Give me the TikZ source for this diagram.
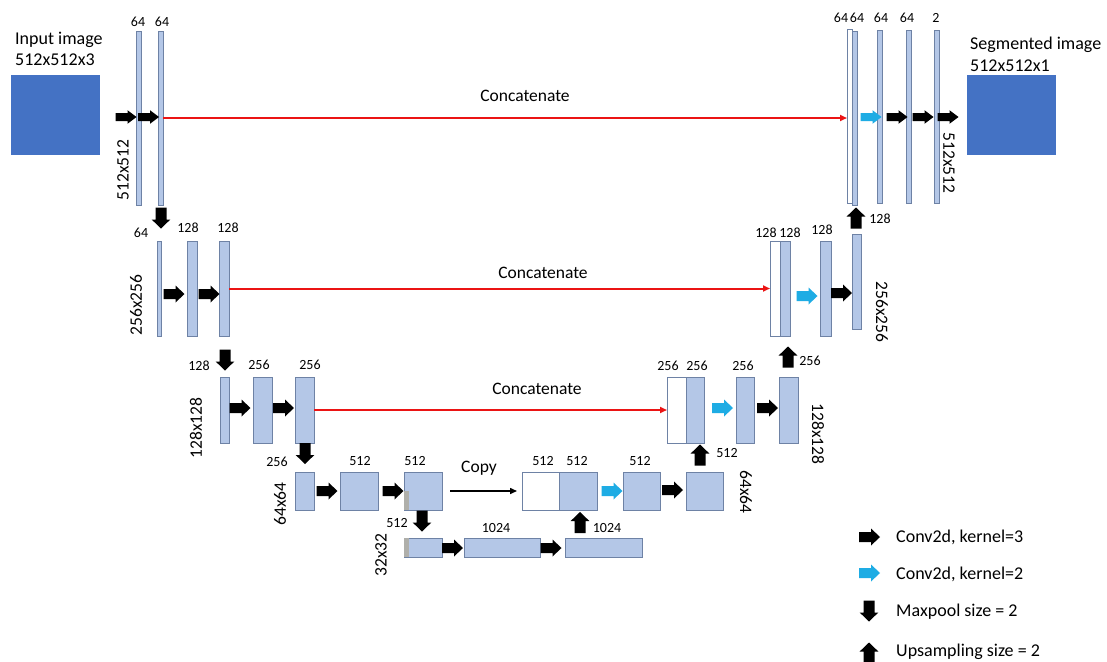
\documentclass[tikz,border=0pt]{standalone}
\usepackage{fontspec}
\setmainfont{Carlito}
\usetikzlibrary{arrows.meta}
\definecolor{barfill}{RGB}{180,199,231}
\definecolor{barline}{RGB}{110,130,165}
\definecolor{imgblue}{RGB}{68,114,196}
\definecolor{cyanA}{RGB}{30,172,228}
\definecolor{redA}{RGB}{235,20,20}
\definecolor{greyA}{RGB}{175,175,170}
\tikzset{
  bar/.style={draw=barline, fill=barfill, line width=0.8pt, inner sep=0pt, outer sep=0pt, anchor=north west},
  wbar/.style={bar, fill=white},
  img/.style={fill=imgblue, draw=none, inner sep=0pt, outer sep=0pt, anchor=north west},
  num/.style={font=\fontsize{14}{15}\selectfont, inner sep=0pt, anchor=base},
  dim/.style={font=\fontsize{17.5}{20}\selectfont, inner sep=0pt},
  big/.style={font=\fontsize{18}{21}\selectfont, inner sep=0pt, anchor=base west},
  lbl/.style={font=\fontsize{17.5}{20}\selectfont, inner sep=0pt, anchor=base},
  concat/.style={draw=redA, line width=2pt, -{Triangle[length=7pt,width=6pt]}},
  copyline/.style={draw=black, line width=1.5pt, -{Triangle[length=7pt,width=6pt]}},
  blk/.pic={\fill[black] (-10.5,-5) -- (1.5,-5) -- (1.5,-8.5) -- (10.5,0) -- (1.5,8.5) -- (1.5,5) -- (-10.5,5) -- cycle;},
  cyn/.pic={\fill[cyanA] (-10.5,-5) -- (1.5,-5) -- (1.5,-8.5) -- (10.5,0) -- (1.5,8.5) -- (1.5,5) -- (-10.5,5) -- cycle;},
  small/.style={yscale=0.8},
  down/.style={rotate=-90, yscale=1.1},
  up/.style={rotate=90, yscale=1.1},
}
\begin{document}
\begin{tikzpicture}[x=1pt, y=-1pt]
\fill[white] (0,0) rectangle (1107,661);
\useasboundingbox (0,0) rectangle (1107,661);

% images
\node[img, minimum width=89, minimum height=80] (inimg) at (11,75) {};
\node[img, minimum width=89, minimum height=80] (outimg) at (967,75) {};
\node[big] (intxt1) at (15,45) {Input image};
\node[big] (intxt2) at (15,66) {512x512x3};
\node[big] (outtxt1) at (970,50) {Segmented image};
\node[big] (outtxt2) at (970,71) {512x512x1};

% level 1
\node[bar, minimum width=5, minimum height=174] (a1) at (136,31) {};
\node[bar, minimum width=5, minimum height=174] (a2) at (158,31) {};
\node[wbar, minimum width=5, minimum height=174] (r1w) at (847,29) {};
\node[bar, minimum width=5, minimum height=174] (r1b) at (852,31) {};
\node[bar, minimum width=5, minimum height=173] (r12) at (877,30) {};
\node[bar, minimum width=5, minimum height=173] (r13) at (906,30) {};
\node[bar, minimum width=5, minimum height=173] (r14) at (934,30) {};

% level 2
\node[bar, minimum width=4, minimum height=95] (b1) at (157,241) {};
\node[bar, minimum width=10, minimum height=95] (b2) at (187,241) {};
\node[bar, minimum width=10, minimum height=95] (b3) at (219,241) {};
\node[wbar, minimum width=10, minimum height=95] (s1w) at (770,241) {};
\node[bar, minimum width=10, minimum height=95] (s1b) at (780,241) {};
\node[bar, minimum width=11, minimum height=95] (s2) at (820,241) {};
\node[bar, minimum width=9, minimum height=95] (s3) at (852,234) {};

% level 3
\node[bar, minimum width=9, minimum height=66] (c1) at (220,377) {};
\node[bar, minimum width=19, minimum height=66] (c2) at (253,377) {};
\node[bar, minimum width=19, minimum height=66] (c3) at (295,377) {};
\node[wbar, minimum width=19, minimum height=66] (t1w) at (667,377) {};
\node[bar, minimum width=18, minimum height=66] (t1b) at (686,377) {};
\node[bar, minimum width=18, minimum height=66] (t2) at (736,377) {};
\node[bar, minimum width=19, minimum height=66] (t3) at (779,377) {};

% level 4
\node[bar, minimum width=19, minimum height=38] (d1) at (295,472) {};
\node[bar, minimum width=38, minimum height=38] (d2) at (340,472) {};
\node[bar, minimum width=38, minimum height=38] (d3) at (404,472) {};
\fill[greyA] ([xshift=0.4pt,yshift=-0.4pt]d3.west) rectangle ([xshift=5pt,yshift=0.4pt]d3.south west);
\node[wbar, minimum width=37, minimum height=38] (u1w) at (522,472) {};
\node[bar, minimum width=38, minimum height=38] (u1b) at (559,472) {};
\node[bar, minimum width=37, minimum height=38] (u2) at (623,472) {};
\node[bar, minimum width=37, minimum height=38] (u3) at (686,472) {};

% level 5
\node[bar, minimum width=38, minimum height=19] (e1) at (404,538) {};
\fill[greyA] ([xshift=0.4pt,yshift=-0.4pt]e1.north west) rectangle ([xshift=5pt,yshift=0.4pt]e1.south west);
\node[bar, minimum width=76, minimum height=19] (e2) at (464,538) {};
\node[bar, minimum width=77, minimum height=19] (e3) at (565,538) {};

% connectors
\draw[concat] (a2.east) -- (a2.east -| r1w.west);
\draw[concat] (b3.east) -- (b3.east -| s1w.west);
\draw[concat] (c3.east) -- (c3.east -| t1w.west);
\draw[copyline] ([xshift=8pt]d3.east) -- ([xshift=-5pt]u1w.west);

\node[lbl] (cat1) at (525,101) {Concatenate};
\node[lbl] (cat2) at (543,278) {Concatenate};
\node[lbl] (cat3) at (537,394) {Concatenate};
\node[lbl] (cpy) at (479,472) {Copy};

% operation arrows
\pic[small] at (126,117) {blk};
\pic[small] at (148.5,117) {blk};
\pic[small] at (871,117) {cyn};
\pic[small] at (897,117) {blk};
\pic[small] at (923,117) {blk};
\pic[small] at (948,117) {blk};
\pic[down] at (161,218) {blk};
\pic[up] at (856,218) {blk};

\pic at (174,294) {blk};
\pic at (209,294) {blk};
\pic at (807,296) {cyn};
\pic at (841.5,293) {blk};
\pic[down] at (225,360) {blk};
\pic[up] at (788,357) {blk};

\pic at (240,408) {blk};
\pic at (283.5,408) {blk};
\pic at (722.5,408) {cyn};
\pic at (767.5,408) {blk};
\pic[down] at (305,453.5) {blk};
\pic[up] at (700,455) {blk};

\pic at (327,491) {blk};
\pic at (393,491) {blk};
\pic at (612,491) {cyn};
\pic at (672.5,490) {blk};
\pic[down] at (422,521) {blk};

\pic at (452.5,548) {blk};
\pic at (551,548) {blk};
\pic[up] at (580,522.5) {blk};

% channel numbers
\node[num] (n1) at (138,27) {64};
\node[num] (n2) at (162,27) {64};
\node[num] (n3) at (841,23) {64};
\node[num] (n4) at (857,23) {64};
\node[num] (n5) at (881,23) {64};
\node[num] (n6) at (907,23) {64};
\node[num] (n7) at (936,23) {2};
\node[num] (n8) at (880,223) {128};
\node[num] (n9) at (141,237) {64};
\node[num] (n10) at (188,232) {128};
\node[num] (n11) at (228,232) {128};
\node[num] (n12) at (766,237) {128};
\node[num] (n13) at (790,237) {128};
\node[num] (n14) at (822,234) {128};
\node[num] (n15) at (810,365) {256};
\node[num] (n16) at (199,370) {128};
\node[num] (n17) at (259,369) {256};
\node[num] (n18) at (310,369) {256};
\node[num] (n19) at (668,370) {256};
\node[num] (n20) at (697,370) {256};
\node[num] (n21) at (743,370) {256};
\node[num] (n22) at (727,457) {512};
\node[num] (n23) at (277,466) {256};
\node[num] (n24) at (360,465) {512};
\node[num] (n25) at (415,465) {512};
\node[num] (n26) at (543,465) {512};
\node[num] (n27) at (577,465) {512};
\node[num] (n28) at (640,465) {512};
\node[num] (n29) at (397,527) {512};
\node[num] (n30) at (496,532) {1024};
\node[num] (n31) at (607,532) {1024};

% spatial sizes
\node[dim, rotate=90] (s512l) at (123,170) {512x512};
\node[dim, rotate=-90] (s512r) at (949,163) {512x512};
\node[dim, rotate=90] (s256l) at (136,305) {256x256};
\node[dim, rotate=-90] (s256r) at (882,312) {256x256};
\node[dim, rotate=90] (s128l) at (196,428) {128x128};
\node[dim, rotate=-90] (s128r) at (818,434) {128x128};
\node[dim, rotate=90] (s64l) at (280,504) {64x64};
\node[dim, rotate=-90] (s64r) at (746,492) {64x64};
\node[dim, rotate=90] (s32) at (381,555) {32x32};

% legend
\pic at (869.5,537) {blk};
\pic at (869.5,573) {cyn};
\pic[down] at (869,611) {blk};
\pic[up] at (869,653) {blk};
\node[big] (lg1) at (896,542) {Conv2d, kernel=3};
\node[big] (lg2) at (896,579) {Conv2d, kernel=2};
\node[big] (lg3) at (896,616) {Maxpool size = 2};
\node[big] (lg4) at (896,656) {Upsampling size = 2};
\end{tikzpicture}
\end{document}
